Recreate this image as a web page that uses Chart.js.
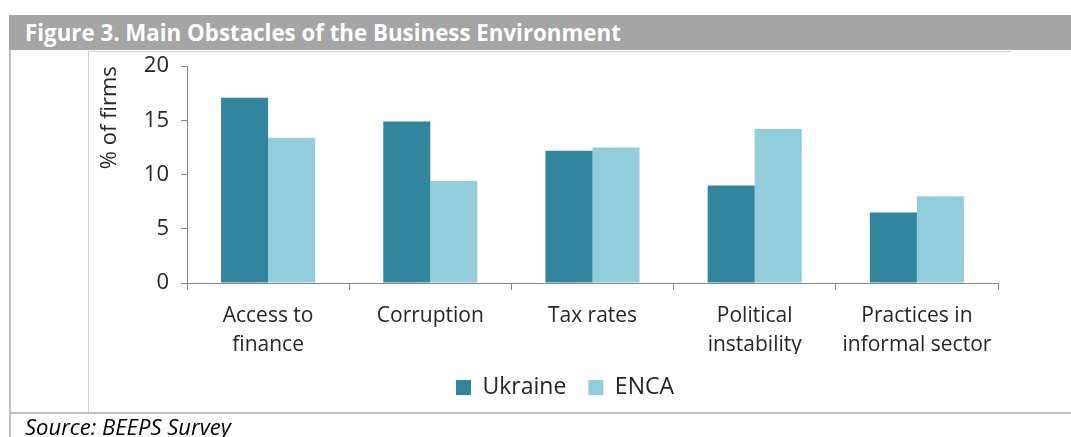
<!DOCTYPE html>
<html>
<head>
<meta charset="utf-8">
<script src="https://cdn.jsdelivr.net/npm/chart.js@4/dist/chart.umd.min.js"></script>
<style>
  html, body { margin: 0; padding: 0; background: #fff; width: 1071px; height: 437px; overflow: hidden; }
  #frameLeft { position: absolute; left: 9px; top: 15px; width: 2px; height: 422px; background: #bfbfbf; z-index: 3; }
  #titleBar { position: absolute; left: 9px; top: 15px; width: 1062px; height: 35px; background: #a5a5a5; z-index: 3;
    color: #fff; font-family: "Open Sans", sans-serif; font-weight: bold; font-size: 22.3px; line-height: 35px; box-sizing: border-box; padding-left: 16px; white-space: nowrap; }
  #boxTop { position: absolute; left: 88px; top: 51px; width: 923px; height: 1px; background: #d0d0d0; z-index: 3; }
  #boxLeft { position: absolute; left: 88px; top: 51px; width: 1px; height: 361px; background: #d0d0d0; z-index: 3; }
  #tableLine { position: absolute; left: 9px; top: 412px; width: 1062px; height: 2px; background: #bfbfbf; z-index: 3; }
  #source { position: absolute; left: 25px; top: 411px; font-family: "Open Sans", sans-serif; font-style: italic; font-size: 22px; color: #000; z-index: 3; white-space: nowrap; }
  #wrap { position: absolute; left: 88px; top: 41px; width: 998px; height: 368px; z-index: 2; }
</style>
</head>
<body>
<div id="frameLeft"></div>
<div id="titleBar">Figure 3. Main Obstacles of the Business Environment</div>
<div id="boxTop"></div>
<div id="boxLeft"></div>
<div id="tableLine"></div>
<div id="source">Source: BEEPS Survey</div>
<div id="wrap"><canvas id="c"></canvas></div>
<script>
const categories = [["Access to", "finance"], "Corruption", "Tax rates", ["Political", "instability"], ["Practices in", "informal sector"]];
const seriesNames = ["Ukraine", "ENCA"];
const ukraine = [17.1, 14.9, 12.2, 9.0, 6.5];
const enca = [13.4, 9.4, 12.5, 14.2, 8.0];
const yTicks = [0, 5, 10, 15, 20];
const yTitle = "% of firms";

const FONT = '"Open Sans", sans-serif';
const axisColor = '#868686';
const textColor = '#262626';

const legendShift = {
  id: 'legendShift',
  afterLayout(chart) {
    const lg = chart.legend;
    if (lg) { lg.left += 22; lg.right += 22; }
  }
};

new Chart(document.getElementById('c'), {
  type: 'bar',
  data: {
    labels: categories,
    datasets: [
      { label: seriesNames[0], data: ukraine, backgroundColor: '#31859c', borderWidth: 0 },
      { label: seriesNames[1], data: enca, backgroundColor: '#92cddc', borderWidth: 0 }
    ]
  },
  plugins: [legendShift],
  options: {
    responsive: true,
    maintainAspectRatio: false,
    animation: false,
    layout: { padding: { top: 4, right: 88, bottom: 0, left: 0 } },
    datasets: { bar: { categoryPercentage: 0.58, barPercentage: 1.0 } },
    plugins: {
      tooltip: { enabled: false },
      legend: {
        position: 'bottom',
        labels: {
          font: { family: FONT, size: 23 },
          color: textColor,
          boxWidth: 15, boxHeight: 15,
          padding: 22
        }
      }
    },
    scales: {
      x: {
        grid: { display: true, drawOnChartArea: false, drawTicks: true, tickLength: 7, color: axisColor, offset: true },
        border: { display: true, color: axisColor, width: 1 },
        ticks: { font: { family: FONT, size: 21, lineHeight: 1.4 }, color: textColor, padding: 11, maxRotation: 0, autoSkip: false },
        afterFit: (s) => { s.height = 71; }
      },
      y: {
        min: 0, max: 20,
        afterBuildTicks: (s) => { s.ticks = yTicks.map(v => ({ value: v })); },
        grid: { display: true, drawOnChartArea: false, drawTicks: true, tickLength: 6, color: axisColor },
        border: { display: true, color: axisColor, width: 1 },
        ticks: { font: { family: FONT, size: 22 }, color: textColor, padding: 12 },
        title: { display: true, text: yTitle, align: 'end', font: { family: FONT, size: 22 }, color: textColor, padding: { top: 9, bottom: 0 } },
        afterFit: (s) => { s.width = 99; }
      }
    }
  }
});
</script>
</body>
</html>
